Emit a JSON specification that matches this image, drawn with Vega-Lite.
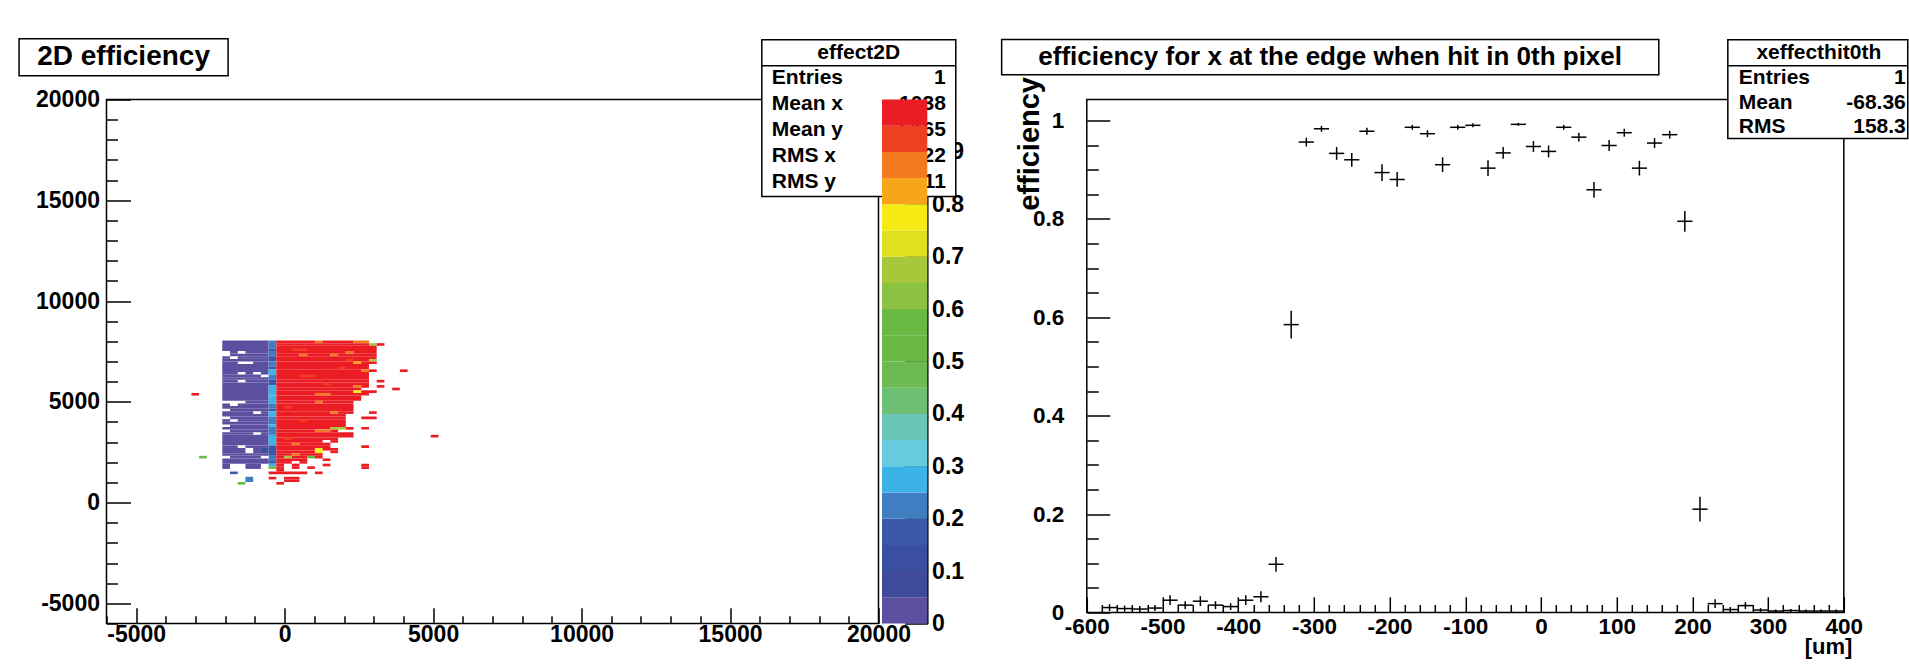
{
"$schema":"https://vega.github.io/schema/vega-lite/v6.json",
"background":"white",
"padding":{"left":17.5,"top":36.5,"right":0,"bottom":0},
"bounds":"flush",
"spacing":208.3,
"config":{
"view":{"stroke":"black","strokeWidth":1.5},
"axis":{"grid":false,"domain":false,"tickColor":"black","tickWidth":1.5,"labelColor":"black","labelFont":"Liberation Sans","labelFontWeight":"bold","titleFont":"Liberation Sans","titleFontWeight":"bold","titleColor":"black","labelFlush":false,"labelOverlap":false},
"text":{"font":"Liberation Sans","fontWeight":"bold","color":"black"}
},
"datasets":{
"cells":[
{"x0":-2100,"x1":-540,"y0":7520,"y1":8040,"e":0.02},
{"x0":-1840,"x1":-1580,"y0":7390,"y1":7520,"e":0.02},
{"x0":-1320,"x1":-540,"y0":7390,"y1":7520,"e":0.02},
{"x0":-1840,"x1":-540,"y0":7260,"y1":7390,"e":0.02},
{"x0":-2100,"x1":-1840,"y0":7130,"y1":7260,"e":0.02},
{"x0":-1580,"x1":-540,"y0":7130,"y1":7260,"e":0.02},
{"x0":-2100,"x1":-540,"y0":7000,"y1":7130,"e":0.02},
{"x0":-2100,"x1":-1580,"y0":6870,"y1":7000,"e":0.02},
{"x0":-1060,"x1":-540,"y0":6870,"y1":7000,"e":0.02},
{"x0":-2100,"x1":-540,"y0":6480,"y1":6870,"e":0.02},
{"x0":-2100,"x1":-1580,"y0":6350,"y1":6480,"e":0.02},
{"x0":-1320,"x1":-1060,"y0":6350,"y1":6480,"e":0.02},
{"x0":-800,"x1":-540,"y0":6350,"y1":6480,"e":0.02},
{"x0":-2100,"x1":-800,"y0":6220,"y1":6350,"e":0.02},
{"x0":-2100,"x1":-540,"y0":6090,"y1":6220,"e":0.02},
{"x0":-2100,"x1":-1580,"y0":5960,"y1":6090,"e":0.02},
{"x0":-1320,"x1":-540,"y0":5960,"y1":6090,"e":0.02},
{"x0":-2100,"x1":-540,"y0":5050,"y1":5960,"e":0.02},
{"x0":-1320,"x1":-540,"y0":4920,"y1":5050,"e":0.02},
{"x0":-2100,"x1":-1840,"y0":4790,"y1":4920,"e":0.02},
{"x0":-1580,"x1":-540,"y0":4790,"y1":4920,"e":0.02},
{"x0":-2100,"x1":-540,"y0":4660,"y1":4790,"e":0.02},
{"x0":-1840,"x1":-540,"y0":4530,"y1":4660,"e":0.02},
{"x0":-2100,"x1":-1060,"y0":4400,"y1":4530,"e":0.02},
{"x0":-800,"x1":-540,"y0":4400,"y1":4530,"e":0.02},
{"x0":-2100,"x1":-540,"y0":4270,"y1":4400,"e":0.02},
{"x0":-1840,"x1":-540,"y0":4140,"y1":4270,"e":0.02},
{"x0":-2100,"x1":-1840,"y0":4010,"y1":4140,"e":0.02},
{"x0":-1580,"x1":-540,"y0":4010,"y1":4140,"e":0.02},
{"x0":-2100,"x1":-540,"y0":3880,"y1":4010,"e":0.02},
{"x0":-1840,"x1":-540,"y0":3750,"y1":3880,"e":0.02},
{"x0":-2100,"x1":-540,"y0":3620,"y1":3750,"e":0.02},
{"x0":-1840,"x1":-540,"y0":3490,"y1":3620,"e":0.02},
{"x0":-2100,"x1":-1060,"y0":3360,"y1":3490,"e":0.02},
{"x0":-800,"x1":-540,"y0":3360,"y1":3490,"e":0.02},
{"x0":-2100,"x1":-540,"y0":2840,"y1":3360,"e":0.02},
{"x0":-2100,"x1":-1580,"y0":2710,"y1":2840,"e":0.02},
{"x0":-1320,"x1":-540,"y0":2710,"y1":2840,"e":0.02},
{"x0":-2100,"x1":-1320,"y0":2450,"y1":2710,"e":0.02},
{"x0":-1060,"x1":-800,"y0":2450,"y1":2710,"e":0.02},
{"x0":-800,"x1":-540,"y0":2450,"y1":2710,"e":0.1},
{"x0":-2100,"x1":-540,"y0":2320,"y1":2450,"e":0.02},
{"x0":-1840,"x1":-800,"y0":2190,"y1":2320,"e":0.02},
{"x0":-2100,"x1":-540,"y0":1930,"y1":2190,"e":0.02},
{"x0":-2100,"x1":-1840,"y0":1670,"y1":1930,"e":0.02},
{"x0":-1320,"x1":-800,"y0":1670,"y1":1930,"e":0.02},
{"x0":-540,"x1":-280,"y0":7650,"y1":8040,"e":0.22},
{"x0":-540,"x1":-280,"y0":7520,"y1":7650,"e":0.15},
{"x0":-540,"x1":-280,"y0":7260,"y1":7520,"e":0.22},
{"x0":-540,"x1":-280,"y0":7000,"y1":7260,"e":0.15},
{"x0":-540,"x1":-280,"y0":6740,"y1":7000,"e":0.22},
{"x0":-540,"x1":-280,"y0":6610,"y1":6740,"e":0.17},
{"x0":-540,"x1":-280,"y0":6350,"y1":6610,"e":0.28},
{"x0":-540,"x1":-280,"y0":6090,"y1":6350,"e":0.22},
{"x0":-540,"x1":-280,"y0":5830,"y1":6090,"e":0.15},
{"x0":-540,"x1":-280,"y0":5310,"y1":5830,"e":0.28},
{"x0":-540,"x1":-280,"y0":4920,"y1":5310,"e":0.26},
{"x0":-540,"x1":-280,"y0":4660,"y1":4920,"e":0.22},
{"x0":-540,"x1":-280,"y0":4530,"y1":4660,"e":0.15},
{"x0":-540,"x1":-280,"y0":4270,"y1":4530,"e":0.28},
{"x0":-540,"x1":-280,"y0":3880,"y1":4270,"e":0.22},
{"x0":-540,"x1":-280,"y0":3750,"y1":3880,"e":0.28},
{"x0":-540,"x1":-280,"y0":3360,"y1":3750,"e":0.22},
{"x0":-540,"x1":-280,"y0":2840,"y1":3360,"e":0.28},
{"x0":-540,"x1":-280,"y0":2320,"y1":2840,"e":0.15},
{"x0":-540,"x1":-280,"y0":2060,"y1":2320,"e":0.22},
{"x0":-540,"x1":-280,"y0":1930,"y1":2060,"e":0.15},
{"x0":-540,"x1":-280,"y0":1800,"y1":1930,"e":0.28},
{"x0":-540,"x1":-280,"y0":1670,"y1":1800,"e":0.5},
{"x0":-280,"x1":1020,"y0":7910,"y1":8040,"e":0.97},
{"x0":1020,"x1":1280,"y0":7910,"y1":8040,"e":0.87},
{"x0":1280,"x1":2320,"y0":7910,"y1":8040,"e":0.97},
{"x0":2320,"x1":2840,"y0":7910,"y1":8040,"e":0.87},
{"x0":-280,"x1":2840,"y0":7780,"y1":7910,"e":0.97},
{"x0":2840,"x1":3100,"y0":7780,"y1":7910,"e":0.67},
{"x0":3100,"x1":3360,"y0":7780,"y1":7910,"e":0.97},
{"x0":-280,"x1":3100,"y0":7520,"y1":7780,"e":0.97},
{"x0":-280,"x1":2060,"y0":7390,"y1":7520,"e":0.97},
{"x0":2060,"x1":2320,"y0":7390,"y1":7520,"e":0.87},
{"x0":2320,"x1":3100,"y0":7390,"y1":7520,"e":0.97},
{"x0":-280,"x1":500,"y0":7260,"y1":7390,"e":0.97},
{"x0":500,"x1":760,"y0":7260,"y1":7390,"e":0.87},
{"x0":760,"x1":1540,"y0":7260,"y1":7390,"e":0.97},
{"x0":1540,"x1":1800,"y0":7260,"y1":7390,"e":0.87},
{"x0":1800,"x1":3100,"y0":7260,"y1":7390,"e":0.97},
{"x0":-280,"x1":3100,"y0":7130,"y1":7260,"e":0.97},
{"x0":-280,"x1":2840,"y0":7000,"y1":7130,"e":0.97},
{"x0":2840,"x1":3100,"y0":7000,"y1":7130,"e":0.67},
{"x0":-280,"x1":2320,"y0":6870,"y1":7000,"e":0.97},
{"x0":2320,"x1":2580,"y0":6870,"y1":7000,"e":0.83},
{"x0":2580,"x1":3100,"y0":6870,"y1":7000,"e":0.97},
{"x0":-280,"x1":2840,"y0":6610,"y1":6870,"e":0.97},
{"x0":-280,"x1":2580,"y0":6480,"y1":6610,"e":0.97},
{"x0":2580,"x1":2840,"y0":6480,"y1":6610,"e":0.87},
{"x0":2840,"x1":3100,"y0":6480,"y1":6610,"e":0.97},
{"x0":3880,"x1":4140,"y0":6480,"y1":6610,"e":0.97},
{"x0":-280,"x1":2840,"y0":6090,"y1":6480,"e":0.97},
{"x0":-280,"x1":2840,"y0":5960,"y1":6090,"e":0.97},
{"x0":3100,"x1":3360,"y0":5960,"y1":6090,"e":0.97},
{"x0":-280,"x1":2840,"y0":5830,"y1":5960,"e":0.97},
{"x0":-280,"x1":2320,"y0":5700,"y1":5830,"e":0.97},
{"x0":2320,"x1":2580,"y0":5700,"y1":5830,"e":0.87},
{"x0":2580,"x1":2840,"y0":5700,"y1":5830,"e":0.97},
{"x0":3100,"x1":3360,"y0":5700,"y1":5830,"e":0.97},
{"x0":-280,"x1":2580,"y0":5570,"y1":5700,"e":0.97},
{"x0":3620,"x1":3880,"y0":5570,"y1":5700,"e":0.97},
{"x0":-280,"x1":2320,"y0":5440,"y1":5570,"e":0.97},
{"x0":2320,"x1":2580,"y0":5440,"y1":5570,"e":0.78},
{"x0":2580,"x1":3100,"y0":5440,"y1":5570,"e":0.97},
{"x0":-280,"x1":1020,"y0":5310,"y1":5440,"e":0.97},
{"x0":1020,"x1":1540,"y0":5310,"y1":5440,"e":0.87},
{"x0":1540,"x1":2840,"y0":5310,"y1":5440,"e":0.97},
{"x0":-3140,"x1":-2880,"y0":5310,"y1":5440,"e":0.97},
{"x0":-280,"x1":2580,"y0":5050,"y1":5310,"e":0.97},
{"x0":-280,"x1":1020,"y0":4920,"y1":5050,"e":0.97},
{"x0":1020,"x1":1280,"y0":4920,"y1":5050,"e":0.87},
{"x0":1280,"x1":2320,"y0":4920,"y1":5050,"e":0.97},
{"x0":-280,"x1":2320,"y0":4530,"y1":4920,"e":0.97},
{"x0":-280,"x1":1540,"y0":4400,"y1":4530,"e":0.97},
{"x0":1540,"x1":1800,"y0":4400,"y1":4530,"e":0.87},
{"x0":1800,"x1":2320,"y0":4400,"y1":4530,"e":0.97},
{"x0":2840,"x1":3100,"y0":4400,"y1":4530,"e":0.97},
{"x0":-280,"x1":2060,"y0":4270,"y1":4400,"e":0.97},
{"x0":-280,"x1":2060,"y0":4140,"y1":4270,"e":0.97},
{"x0":2580,"x1":3100,"y0":4140,"y1":4270,"e":0.97},
{"x0":-280,"x1":2060,"y0":3750,"y1":4140,"e":0.97},
{"x0":-280,"x1":1540,"y0":3620,"y1":3750,"e":0.97},
{"x0":1540,"x1":2060,"y0":3620,"y1":3750,"e":0.67},
{"x0":2060,"x1":2320,"y0":3620,"y1":3750,"e":0.97},
{"x0":2580,"x1":2840,"y0":3620,"y1":3750,"e":0.97},
{"x0":-280,"x1":1020,"y0":3490,"y1":3620,"e":0.97},
{"x0":1020,"x1":1540,"y0":3490,"y1":3620,"e":0.87},
{"x0":1540,"x1":1800,"y0":3490,"y1":3620,"e":0.97},
{"x0":-280,"x1":2320,"y0":3230,"y1":3490,"e":0.97},
{"x0":4920,"x1":5180,"y0":3230,"y1":3360,"e":0.97},
{"x0":-280,"x1":1800,"y0":3100,"y1":3230,"e":0.97},
{"x0":-280,"x1":1280,"y0":2970,"y1":3100,"e":0.97},
{"x0":1540,"x1":1800,"y0":2970,"y1":3100,"e":0.97},
{"x0":-280,"x1":240,"y0":2840,"y1":2970,"e":0.97},
{"x0":240,"x1":500,"y0":2840,"y1":2970,"e":0.87},
{"x0":500,"x1":1540,"y0":2840,"y1":2970,"e":0.97},
{"x0":-280,"x1":1540,"y0":2710,"y1":2840,"e":0.97},
{"x0":2580,"x1":2840,"y0":2710,"y1":2840,"e":0.97},
{"x0":-280,"x1":1020,"y0":2580,"y1":2710,"e":0.97},
{"x0":1020,"x1":1280,"y0":2580,"y1":2710,"e":0.78},
{"x0":1280,"x1":1800,"y0":2580,"y1":2710,"e":0.97},
{"x0":-280,"x1":1020,"y0":2450,"y1":2580,"e":0.97},
{"x0":1020,"x1":1280,"y0":2450,"y1":2580,"e":0.78},
{"x0":1540,"x1":1800,"y0":2450,"y1":2580,"e":0.97},
{"x0":-280,"x1":240,"y0":2320,"y1":2450,"e":0.97},
{"x0":240,"x1":500,"y0":2320,"y1":2450,"e":0.87},
{"x0":500,"x1":1280,"y0":2320,"y1":2450,"e":0.97},
{"x0":-280,"x1":-20,"y0":2190,"y1":2320,"e":0.97},
{"x0":-20,"x1":240,"y0":2190,"y1":2320,"e":0.67},
{"x0":240,"x1":760,"y0":2190,"y1":2320,"e":0.97},
{"x0":760,"x1":1020,"y0":2190,"y1":2320,"e":0.55},
{"x0":1020,"x1":1280,"y0":2190,"y1":2320,"e":0.97},
{"x0":-2880,"x1":-2620,"y0":2190,"y1":2320,"e":0.52},
{"x0":-280,"x1":760,"y0":2060,"y1":2190,"e":0.97},
{"x0":1280,"x1":1540,"y0":2060,"y1":2190,"e":0.97},
{"x0":-280,"x1":240,"y0":1930,"y1":2060,"e":0.97},
{"x0":500,"x1":760,"y0":1930,"y1":2060,"e":0.97},
{"x0":-280,"x1":-20,"y0":1800,"y1":1930,"e":0.97},
{"x0":240,"x1":500,"y0":1800,"y1":1930,"e":0.97},
{"x0":1280,"x1":1540,"y0":1800,"y1":1930,"e":0.97},
{"x0":2580,"x1":2840,"y0":1800,"y1":1930,"e":0.97},
{"x0":-280,"x1":-20,"y0":1670,"y1":1800,"e":0.97},
{"x0":240,"x1":500,"y0":1670,"y1":1800,"e":0.97},
{"x0":760,"x1":1020,"y0":1670,"y1":1800,"e":0.97},
{"x0":2580,"x1":2840,"y0":1670,"y1":1800,"e":0.97},
{"x0":-280,"x1":-20,"y0":1540,"y1":1670,"e":0.97},
{"x0":-540,"x1":760,"y0":1410,"y1":1540,"e":0.97},
{"x0":1020,"x1":1280,"y0":1410,"y1":1540,"e":0.97},
{"x0":-1840,"x1":-1580,"y0":1410,"y1":1540,"e":0.15},
{"x0":-540,"x1":-280,"y0":1150,"y1":1280,"e":0.97},
{"x0":-20,"x1":500,"y0":1150,"y1":1280,"e":0.97},
{"x0":-1320,"x1":-1060,"y0":1020,"y1":1280,"e":0.22},
{"x0":-20,"x1":500,"y0":1020,"y1":1150,"e":0.97},
{"x0":-280,"x1":-20,"y0":890,"y1":1020,"e":0.97},
{"x0":-1580,"x1":-1320,"y0":890,"y1":1020,"e":0.55},
{"x0":240,"x1":760,"y0":7520,"y1":7650,"e":0.92},
{"x0":1800,"x1":2060,"y0":6610,"y1":6740,"e":0.92},
{"x0":500,"x1":1020,"y0":6220,"y1":6350,"e":0.92},
{"x0":-20,"x1":240,"y0":4660,"y1":4790,"e":0.92},
{"x0":500,"x1":760,"y0":4010,"y1":4140,"e":0.92},
{"x0":-20,"x1":240,"y0":3100,"y1":3230,"e":0.92},
{"x0":1280,"x1":1540,"y0":5830,"y1":5960,"e":0.92},
{"x0":2060,"x1":2320,"y0":7000,"y1":7130,"e":0.92}
],
"bands":[
{"lo":0,"hi":0.05,"e":0.025},{"lo":0.05,"hi":0.1,"e":0.075},{"lo":0.1,"hi":0.15,"e":0.125},{"lo":0.15,"hi":0.2,"e":0.175},
{"lo":0.2,"hi":0.25,"e":0.225},{"lo":0.25,"hi":0.3,"e":0.275},{"lo":0.3,"hi":0.35,"e":0.325},{"lo":0.35,"hi":0.4,"e":0.375},
{"lo":0.4,"hi":0.45,"e":0.425},{"lo":0.45,"hi":0.5,"e":0.475},{"lo":0.5,"hi":0.55,"e":0.525},{"lo":0.55,"hi":0.6,"e":0.575},
{"lo":0.6,"hi":0.65,"e":0.625},{"lo":0.65,"hi":0.7,"e":0.675},{"lo":0.7,"hi":0.75,"e":0.725},{"lo":0.75,"hi":0.8,"e":0.775},
{"lo":0.8,"hi":0.85,"e":0.825},{"lo":0.85,"hi":0.9,"e":0.875},{"lo":0.9,"hi":0.95,"e":0.925},{"lo":0.95,"hi":1,"e":0.975}
],
"eff":[
{"x":-570,"x0":-580,"x1":-560,"eff":0.010,"lo":0.003,"hi":0.017},
{"x":-550,"x0":-560,"x1":-540,"eff":0.008,"lo":0.002,"hi":0.014},
{"x":-530,"x0":-540,"x1":-520,"eff":0.007,"lo":0.001,"hi":0.013},
{"x":-510,"x0":-520,"x1":-500,"eff":0.009,"lo":0.003,"hi":0.015},
{"x":-490,"x0":-500,"x1":-480,"eff":0.025,"lo":0.015,"hi":0.035},
{"x":-470,"x0":-480,"x1":-460,"eff":0.015,"lo":0.007,"hi":0.023},
{"x":-450,"x0":-460,"x1":-440,"eff":0.023,"lo":0.013,"hi":0.033},
{"x":-430,"x0":-440,"x1":-420,"eff":0.015,"lo":0.007,"hi":0.023},
{"x":-410,"x0":-420,"x1":-400,"eff":0.012,"lo":0.005,"hi":0.019},
{"x":-390,"x0":-400,"x1":-380,"eff":0.025,"lo":0.015,"hi":0.035},
{"x":-370,"x0":-380,"x1":-360,"eff":0.032,"lo":0.021,"hi":0.043},
{"x":-350,"x0":-360,"x1":-340,"eff":0.098,"lo":0.083,"hi":0.113},
{"x":-330,"x0":-340,"x1":-320,"eff":0.585,"lo":0.557,"hi":0.613},
{"x":-310,"x0":-320,"x1":-300,"eff":0.956,"lo":0.947,"hi":0.965},
{"x":-290,"x0":-300,"x1":-280,"eff":0.983,"lo":0.977,"hi":0.989},
{"x":-270,"x0":-280,"x1":-260,"eff":0.933,"lo":0.92,"hi":0.946},
{"x":-250,"x0":-260,"x1":-240,"eff":0.920,"lo":0.906,"hi":0.934},
{"x":-230,"x0":-240,"x1":-220,"eff":0.978,"lo":0.971,"hi":0.985},
{"x":-210,"x0":-220,"x1":-200,"eff":0.894,"lo":0.877,"hi":0.911},
{"x":-190,"x0":-200,"x1":-180,"eff":0.880,"lo":0.865,"hi":0.895},
{"x":-170,"x0":-180,"x1":-160,"eff":0.986,"lo":0.981,"hi":0.991},
{"x":-150,"x0":-160,"x1":-140,"eff":0.973,"lo":0.966,"hi":0.98},
{"x":-130,"x0":-140,"x1":-120,"eff":0.910,"lo":0.895,"hi":0.925},
{"x":-110,"x0":-120,"x1":-100,"eff":0.986,"lo":0.981,"hi":0.991},
{"x":-90,"x0":-100,"x1":-80,"eff":0.990,"lo":0.986,"hi":0.994},
{"x":-70,"x0":-80,"x1":-60,"eff":0.903,"lo":0.887,"hi":0.919},
{"x":-50,"x0":-60,"x1":-40,"eff":0.934,"lo":0.922,"hi":0.946},
{"x":-30,"x0":-40,"x1":-20,"eff":0.992,"lo":0.989,"hi":0.995},
{"x":-10,"x0":-20,"x1":0,"eff":0.947,"lo":0.936,"hi":0.958},
{"x":10,"x0":0,"x1":20,"eff":0.937,"lo":0.925,"hi":0.949},
{"x":30,"x0":20,"x1":40,"eff":0.986,"lo":0.981,"hi":0.991},
{"x":50,"x0":40,"x1":60,"eff":0.966,"lo":0.957,"hi":0.975},
{"x":70,"x0":60,"x1":80,"eff":0.859,"lo":0.843,"hi":0.875},
{"x":90,"x0":80,"x1":100,"eff":0.949,"lo":0.938,"hi":0.96},
{"x":110,"x0":100,"x1":120,"eff":0.975,"lo":0.967,"hi":0.983},
{"x":130,"x0":120,"x1":140,"eff":0.903,"lo":0.888,"hi":0.918},
{"x":150,"x0":140,"x1":160,"eff":0.954,"lo":0.944,"hi":0.964},
{"x":170,"x0":160,"x1":180,"eff":0.971,"lo":0.963,"hi":0.979},
{"x":190,"x0":180,"x1":200,"eff":0.795,"lo":0.774,"hi":0.816},
{"x":210,"x0":200,"x1":220,"eff":0.210,"lo":0.185,"hi":0.235},
{"x":230,"x0":220,"x1":240,"eff":0.018,"lo":0.009,"hi":0.027},
{"x":250,"x0":240,"x1":260,"eff":0.006,"lo":0.001,"hi":0.011},
{"x":270,"x0":260,"x1":280,"eff":0.014,"lo":0.007,"hi":0.021},
{"x":290,"x0":280,"x1":300,"eff":0.005,"lo":0.001,"hi":0.009},
{"x":310,"x0":300,"x1":320,"eff":0.003,"lo":0,"hi":0.006},
{"x":330,"x0":320,"x1":340,"eff":0.004,"lo":0.001,"hi":0.007},
{"x":350,"x0":340,"x1":360,"eff":0.003,"lo":0,"hi":0.006},
{"x":370,"x0":360,"x1":380,"eff":0.003,"lo":0,"hi":0.006},
{"x":390,"x0":380,"x1":400,"eff":0.003,"lo":0,"hi":0.006}
]
},
"hconcat":[
{
"width":772,"height":524,
"resolve":{"scale":{"y":"independent","color":"shared"},"axis":{"x":"independent","y":"independent"}},
"layer":[
{"layer":[
{"data":{"name":"cells"},"mark":{"type":"rect"},
"encoding":{
"x":{"field":"x0","type":"quantitative","scale":{"domain":[-6000,20000],"nice":false,"zero":false},
"axis":{"title":null,"orient":"bottom","labelOverlap":false,"labelFlush":false,"values":[-5000,0,5000,10000,15000,20000],
"labelExpr":"toString(datum.value)","tickSize":-15.7,"labelPadding":15.5,"labelFontSize":23}},
"x2":{"field":"x1"},
"y":{"field":"y0","type":"quantitative","scale":{"domain":[-6000,20000],"nice":false,"zero":false},
"axis":{"title":null,"orient":"left","labelOverlap":false,"labelFlush":false,"values":[-5000,0,5000,10000,15000,20000],
"labelExpr":"toString(datum.value)","tickSize":-24,"labelPadding":31,"labelFontSize":23}},
"y2":{"field":"y1"},
"color":{"field":"e","type":"quantitative","legend":null,
"scale":{"type":"threshold","domain":[0.05,0.1,0.15,0.2,0.25,0.3,0.35,0.4,0.45,0.5,0.55,0.6,0.65,0.7,0.75,0.8,0.85,0.9,0.95],
"range":["#5b50a0","#3f4a9b","#3b4fa1","#3c58a8","#3f7fc1","#3cb3e6","#67cbdf","#6bc6b7","#6dbf74","#6bbb50","#6ab947","#69b945","#8cc241","#a8c83b","#e0df20","#f6eb15","#f7a61b","#f37a20","#ef3f23","#ec1c24"]}}
}},
{"data":{"values":[{}]},"mark":{"type":"rect","fill":"white","stroke":"black","strokeWidth":1.5,"clip":false},
"encoding":{"x":{"datum":-8944,"type":"quantitative"},"x2":{"datum":-1905},"y":{"datum":21176,"type":"quantitative"},"y2":{"datum":23012}}},
{"data":{"values":[{}]},"mark":{"type":"text","fontSize":28,"align":"center","baseline":"middle","clip":false},
"encoding":{"x":{"datum":-5424,"type":"quantitative"},"y":{"datum":22094,"type":"quantitative"},"text":{"value":"2D efficiency"}}},
{"data":{"values":[{}]},"mark":{"type":"rect","fill":"white","stroke":"black","strokeWidth":1.5,"clip":false},
"encoding":{"x":{"datum":16070,"type":"quantitative"},"x2":{"datum":22603},"y":{"datum":15187,"type":"quantitative"},"y2":{"datum":22962}}},
{"data":{"values":[{}]},"mark":{"type":"rule","color":"black","strokeWidth":1.5,"clip":false},
"encoding":{"x":{"datum":16070,"type":"quantitative"},"x2":{"datum":22603},"y":{"datum":21672,"type":"quantitative"}}},
{"data":{"values":[{}]},"mark":{"type":"text","fontSize":21,"align":"center","baseline":"middle","clip":false},
"encoding":{"x":{"datum":19336,"type":"quantitative"},"y":{"datum":22317,"type":"quantitative"},"text":{"value":"effect2D"}}},
{"data":{"values":[{"k":"Entries","p":21042},{"k":"Mean x","p":19752},{"k":"Mean y","p":18462},{"k":"RMS x","p":17172},{"k":"RMS y","p":15882}]},
"mark":{"type":"text","fontSize":21,"align":"left","baseline":"middle","clip":false},
"encoding":{"x":{"datum":16407,"type":"quantitative"},"y":{"field":"p","type":"quantitative"},"text":{"field":"k"}}},
{"data":{"values":[{"k":"1","p":21042},{"k":"1038","p":19752},{"k":"5165","p":18462},{"k":"1122","p":17172},{"k":"1811","p":15882}]},
"mark":{"type":"text","fontSize":21,"align":"right","baseline":"middle","clip":false},
"encoding":{"x":{"datum":22267,"type":"quantitative"},"y":{"field":"p","type":"quantitative"},"text":{"field":"k"}}}
]},
{"data":{"name":"bands"},"mark":{"type":"rect","clip":false},
"encoding":{
"x":{"datum":20118,"type":"quantitative","axis":null},"x2":{"datum":21644},
"y":{"field":"lo","type":"quantitative","scale":{"domain":[0,1],"nice":false,"zero":false},
"axis":{"orient":"right","offset":48.8,"title":null,"labelOverlap":false,"labelFlush":false,"values":[0,0.1,0.2,0.3,0.4,0.5,0.6,0.7,0.8,0.9,1],"labelExpr":"toString(datum.value)",
"tickSize":-22.7,"labelPadding":27,"labelFontSize":23,"domain":true,"domainColor":"black","domainWidth":1.5}},
"y2":{"field":"hi"},
"color":{"field":"e","type":"quantitative","legend":null,
"scale":{"type":"threshold","domain":[0.05,0.1,0.15,0.2,0.25,0.3,0.35,0.4,0.45,0.5,0.55,0.6,0.65,0.7,0.75,0.8,0.85,0.9,0.95],
"range":["#5b50a0","#3f4a9b","#3b4fa1","#3c58a8","#3f7fc1","#3cb3e6","#67cbdf","#6bc6b7","#6dbf74","#6bbb50","#6ab947","#69b945","#8cc241","#a8c83b","#e0df20","#f6eb15","#f7a61b","#f37a20","#ef3f23","#ec1c24"]}}
}},
{"data":{"name":"cells"},"mark":{"type":"point","opacity":0},
"encoding":{
"x":{"field":"x0","type":"quantitative","axis":{"orient":"bottom","title":null,"labels":false,"values":[-6000,-4000,-3000,-2000,-1000,1000,2000,3000,4000,6000,7000,8000,9000,11000,12000,13000,14000,16000,17000,18000,19000],"tickSize":-7.7}},
"y":{"field":"y0","type":"quantitative","scale":{"domain":[-6000,20000],"nice":false,"zero":false},"axis":{"orient":"left","title":null,"labels":false,"values":[-6000,-4000,-3000,-2000,-1000,1000,2000,3000,4000,6000,7000,8000,9000,11000,12000,13000,14000,16000,17000,18000,19000],"tickSize":-11}}
}}
]
},
{
"width":757,"height":513,
"resolve":{"axis":{"x":"independent","y":"independent"}},
"layer":[
{"layer":[
{"data":{"name":"eff"},"mark":{"type":"rule","color":"black","strokeWidth":1.5},
"encoding":{
"x":{"field":"x0","type":"quantitative","scale":{"domain":[-600,400],"nice":false,"zero":false},
"axis":{"orient":"bottom","labelOverlap":false,"labelFlush":false,"values":[-600,-500,-400,-300,-200,-100,0,100,200,300,400],
"labelExpr":"toString(datum.value)","tickSize":-15.7,"labelPadding":18.5,"labelFontSize":22.5,
"title":"[um]","titleAnchor":"end","titleAlign":"right","titleBaseline":"middle","titleX":765,"titleY":34,"titleFontSize":22}},
"x2":{"field":"x1"},
"y":{"field":"eff","type":"quantitative","scale":{"domain":[0,1.0425],"nice":false,"zero":false},
"axis":{"orient":"left","labelOverlap":false,"labelFlush":false,"values":[0,0.2,0.4,0.6,0.8,1],
"labelExpr":"toString(datum.value)","tickSize":-23,"labelPadding":46,"labelFontSize":22.5,
"title":"efficiency","titleAngle":-90,"titleAnchor":"end","titleAlign":"right","titleBaseline":"middle","titleX":-57,"titleY":-23,"titleFontSize":29}}
}},
{"data":{"name":"eff"},"mark":{"type":"rule","color":"black","strokeWidth":1.5},
"encoding":{"x":{"field":"x","type":"quantitative"},"y":{"field":"lo","type":"quantitative"},"y2":{"field":"hi"}}},
{"data":{"values":[{}]},"mark":{"type":"rect","fill":"white","stroke":"black","strokeWidth":1.5,"clip":false},
"encoding":{"x":{"datum":-712.5,"type":"quantitative"},"x2":{"datum":155.6},"y":{"datum":1.0927,"type":"quantitative"},"y2":{"datum":1.1644}}},
{"data":{"values":[{}]},"mark":{"type":"text","fontSize":26,"align":"center","baseline":"middle","clip":false},
"encoding":{"x":{"datum":-278.5,"type":"quantitative"},"y":{"datum":1.1286,"type":"quantitative"},"text":{"value":"efficiency for x at the edge when hit in 0th pixel"}}},
{"data":{"values":[{}]},"mark":{"type":"rect","fill":"white","stroke":"black","strokeWidth":1.5,"clip":false},
"encoding":{"x":{"datum":246.8,"type":"quantitative"},"x2":{"datum":484.5},"y":{"datum":0.9632,"type":"quantitative"},"y2":{"datum":1.1638}}},
{"data":{"values":[{}]},"mark":{"type":"rule","color":"black","strokeWidth":1.5,"clip":false},
"encoding":{"x":{"datum":246.8,"type":"quantitative"},"x2":{"datum":484.5},"y":{"datum":1.111,"type":"quantitative"}}},
{"data":{"values":[{}]},"mark":{"type":"text","fontSize":21,"align":"center","baseline":"middle","clip":false},
"encoding":{"x":{"datum":367,"type":"quantitative"},"y":{"datum":1.1374,"type":"quantitative"},"text":{"value":"xeffecthit0th"}}},
{"data":{"values":[{"k":"Entries","p":1.0862},{"k":"Mean","p":1.0364},{"k":"RMS","p":0.9876}]},
"mark":{"type":"text","fontSize":21,"align":"left","baseline":"middle","clip":false},
"encoding":{"x":{"datum":261.3,"type":"quantitative"},"y":{"field":"p","type":"quantitative"},"text":{"field":"k"}}},
{"data":{"values":[{"k":"1","p":1.0862},{"k":"-68.36","p":1.0364},{"k":"158.3","p":0.9876}]},
"mark":{"type":"text","fontSize":21,"align":"right","baseline":"middle","clip":false},
"encoding":{"x":{"datum":481.9,"type":"quantitative"},"y":{"field":"p","type":"quantitative"},"text":{"field":"k"}}}
]},
{"data":{"name":"eff"},"mark":{"type":"point","opacity":0},
"encoding":{
"x":{"field":"x","type":"quantitative","axis":{"orient":"bottom","title":null,"labels":false,"values":[-580,-560,-540,-520,-480,-460,-440,-420,-380,-360,-340,-320,-280,-260,-240,-220,-180,-160,-140,-120,-80,-60,-40,-20,20,40,60,80,120,140,160,180,220,240,260,280,320,340,360,380],"tickSize":-8}},
"y":{"field":"eff","type":"quantitative","axis":{"orient":"left","title":null,"labels":false,"values":[0.05,0.1,0.15,0.25,0.3,0.35,0.45,0.5,0.55,0.65,0.7,0.75,0.85,0.9,0.95],"tickSize":-11.5}}
}}
]
}
]
}
